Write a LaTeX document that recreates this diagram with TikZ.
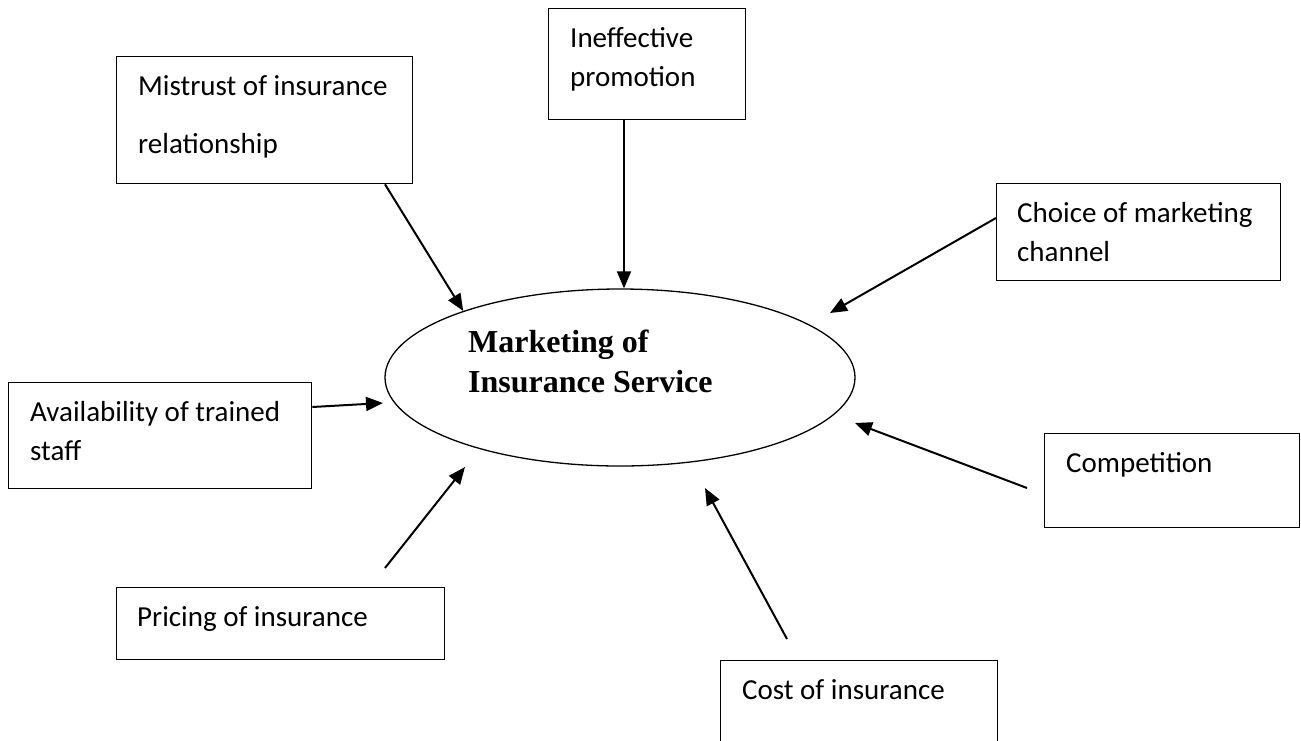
\documentclass[tikz,border=0pt]{standalone}
\usepackage{fontspec}
\setmainfont{Carlito}
\newfontfamily\titlefont{Liberation Serif}
\usetikzlibrary{arrows.meta,shapes.geometric,calc}
\begin{document}
\begin{tikzpicture}[x=1pt,y=-1pt,
  box/.style={draw, line width=1.3pt, rectangle, inner sep=0pt, anchor=north west},
  lbl/.style={anchor=base west, inner sep=0pt, align=left, font=\fontsize{29}{39}\selectfont},
  arr/.style={line width=2pt, -{Triangle[length=17pt,width=14pt]}}]
\clip (0,0) rectangle (1301,740);
\fill[white] (0,0) rectangle (1301,740);

% boxes
\node[box, minimum width=296pt, minimum height=127pt] (m)  at (116,56)  {};
\node[box, minimum width=197pt, minimum height=111pt] (ip) at (548,8)   {};
\node[box, minimum width=284pt, minimum height=97pt]  (ch) at (996,183) {};
\node[box, minimum width=303pt, minimum height=106pt] (av) at (8,382)   {};
\node[box, minimum width=255pt, minimum height=94pt]  (co) at (1044,433) {};
\node[box, minimum width=328pt, minimum height=72pt]  (pr) at (116,587) {};
\node[box, minimum width=277pt, minimum height=100pt] (cs) at (720,660) {};

% labels (base anchor = baseline of the last line)
\node[lbl, font=\fontsize{29}{58}\selectfont] (mt) at (138,153) {Mistrust of insurance\\relationship};
\node[lbl] (ipt) at (570,86)  {Ineffective\\promotion};
\node[lbl] (cht) at (1017,261) {Choice of marketing\\channel};
\node[lbl] (avt) at (30,460)  {Availability of trained\\staff};
\node[lbl] (cot) at (1066,472) {Competition};
\node[lbl] (prt) at (137,626) {Pricing of insurance};
\node[lbl] (cst) at (742,699) {Cost of insurance};

% centre ellipse
\node[draw, ellipse, line width=1.3pt, minimum width=470pt, minimum height=177pt, inner sep=0pt] (e) at (620,377.5) {};
\node[anchor=base west, inner sep=0pt, align=left, font=\titlefont\bfseries\fontsize{32}{40}\selectfont] (title) at (468,392) {Marketing of\\Insurance Service};

% free ends
\coordinate (chEnd) at (830,313);
\coordinate (avEnd) at (383,403);
\coordinate (coStart) at (1027,488);
\coordinate (coEnd) at (855,423);
\coordinate (csStart) at (787,639);
\coordinate (csEnd) at (705,488);
\coordinate (prStart) at (385,568);
\coordinate (prEnd) at (465,467);

% arrows
\draw[arr] ($(m.south west)+(269,0)$) -- (e.157);
\draw[arr] ($(ip.south west)+(76,0)$) -- ($(e.north)+(4,0)$);
\draw[arr] ($(ch.north west)+(0,35)$) -- (chEnd);
\draw[arr] ($(av.north east)+(0,25)$) -- (avEnd);
\draw[arr] (coStart) -- (coEnd);
\draw[arr] (csStart) -- (csEnd);
\draw[arr] (prStart) -- (prEnd);
\end{tikzpicture}
\end{document}
